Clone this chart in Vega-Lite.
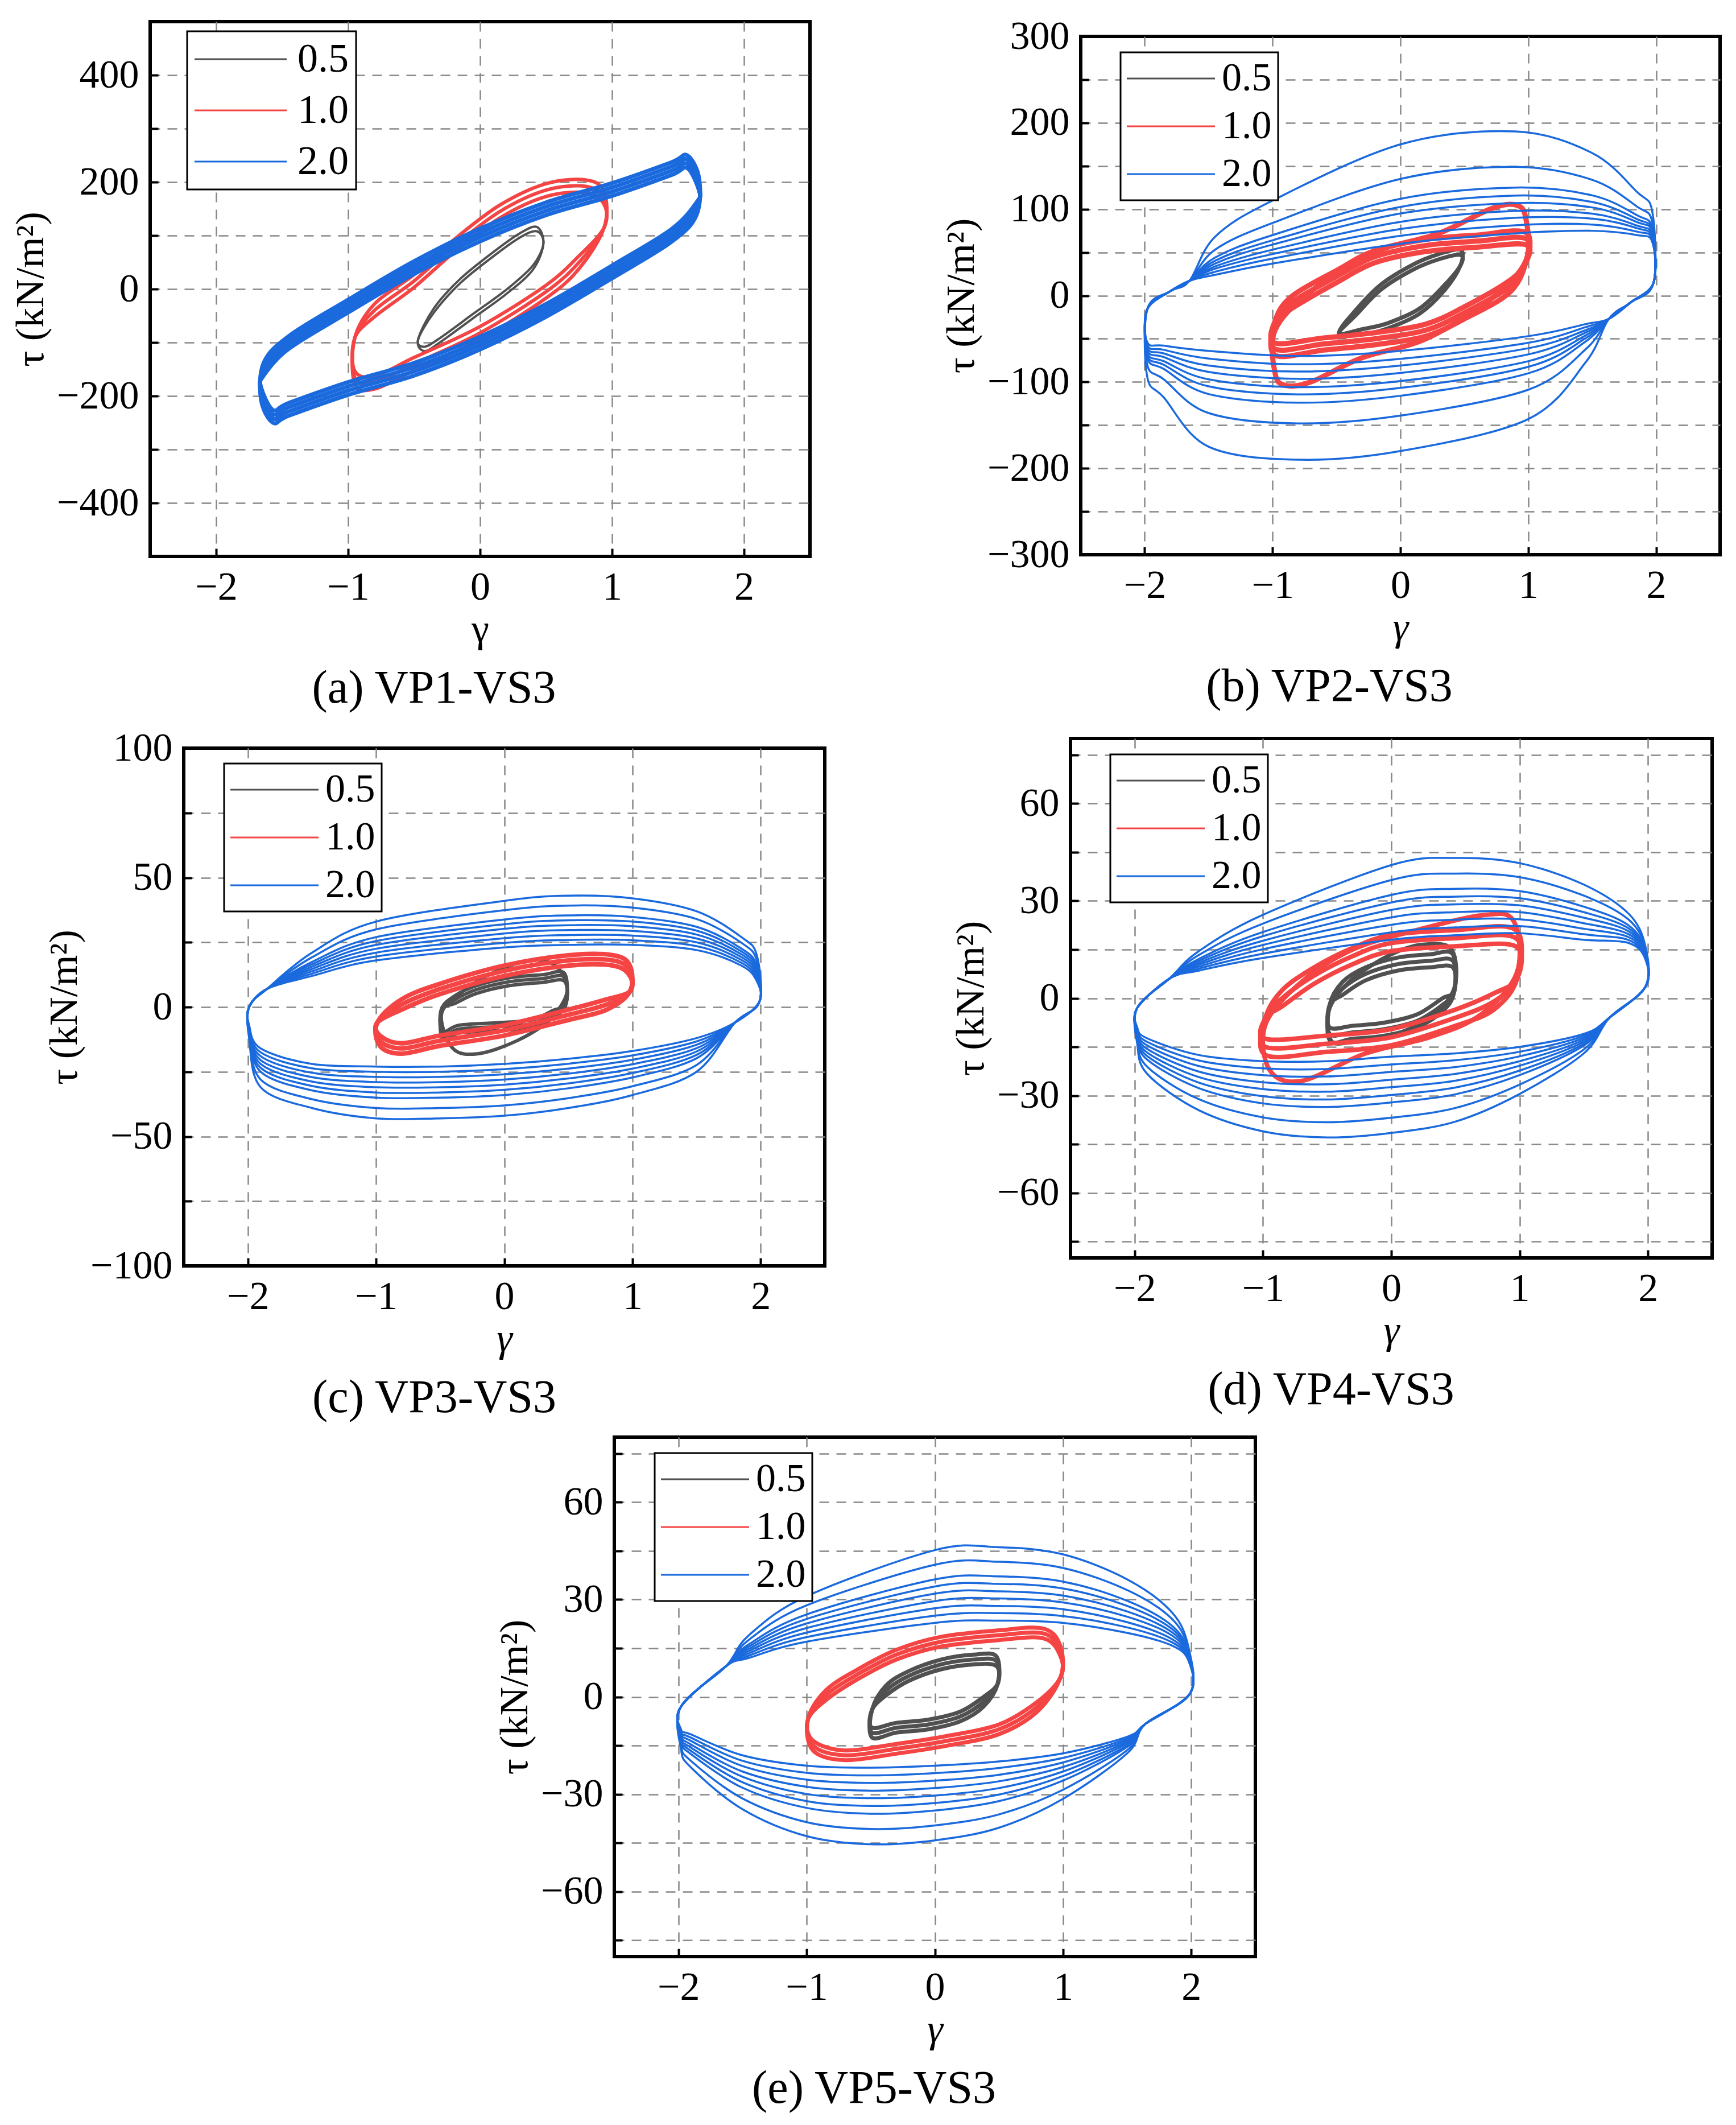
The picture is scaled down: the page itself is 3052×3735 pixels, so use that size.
{
"$schema":"https://vega.github.io/schema/vega-lite/v6.json",
"background":"white",
"padding":{"left":5,"top":26,"right":5,"bottom":2},
"config":{
"view":{"stroke":"#000000","strokeWidth":6},
"axis":{"domain":false,"grid":true,"gridColor":"#888888","gridDash":[17,13],"gridWidth":2.5,"tickColor":"#000000","tickWidth":4,"tickSize":-14,"labelFont":"Liberation Serif","labelFontSize":70,"labelColor":"#000000","labelPadding":34,"labelOverlap":false,"labelFlush":false,"titleFont":"Liberation Serif","titleFontSize":70,"titleFontWeight":"normal","titleColor":"#000000"},
"axisX":{"titlePadding":5},
"axisY":{"titlePadding":9},
"legend":{"symbolType":"M-4,0H4","symbolStrokeWidth":3,"symbolSize":1502,"symbolOffset":42.5,"labelFont":"Liberation Serif","labelFontSize":70,"labelColor":"#000000","labelOffset":54.5,"rowPadding":14,"padding":11,"strokeColor":"#000000","strokeWidth":3,"fillColor":"#ffffff","labelLimit":0},
"title":{"font":"Liberation Serif","fontSize":82,"fontWeight":"normal","color":"#000000","orient":"bottom","anchor":"middle","offset":29},
"line":{"interpolate":"cardinal-closed","strokeWidth":3,"clip":true}
},
"datasets":{
"A0":[{"c":1,"x":-0.47,"y":-95},{"c":1,"x":-0.35,"y":-44},{"c":1,"x":-0.15,"y":11},{"c":1,"x":0.1,"y":61},{"c":1,"x":0.3,"y":96},{"c":1,"x":0.43,"y":108},{"c":1,"x":0.48,"y":85},{"c":1,"x":0.4,"y":44},{"c":1,"x":0.2,"y":-1},{"c":1,"x":-0.05,"y":-46},{"c":1,"x":-0.3,"y":-91},{"c":1,"x":-0.42,"y":-108},
{"c":2,"x":-0.47,"y":-95},{"c":2,"x":-0.35,"y":-36},{"c":2,"x":-0.15,"y":19},{"c":2,"x":0.1,"y":69},{"c":2,"x":0.3,"y":104},{"c":2,"x":0.43,"y":116},{"c":2,"x":0.48,"y":85},{"c":2,"x":0.4,"y":36},{"c":2,"x":0.2,"y":-9},{"c":2,"x":-0.05,"y":-54},{"c":2,"x":-0.3,"y":-99},{"c":2,"x":-0.42,"y":-116}],
"A1":[{"c":1,"x":-0.95,"y":-92},{"c":1,"x":-0.8,"y":-52},{"c":1,"x":-0.5,"y":3},{"c":1,"x":-0.2,"y":68},{"c":1,"x":0.15,"y":133},{"c":1,"x":0.5,"y":173},{"c":1,"x":0.8,"y":180},{"c":1,"x":0.94,"y":158},{"c":1,"x":0.94,"y":115},{"c":1,"x":0.75,"y":62},{"c":1,"x":0.5,"y":7},{"c":1,"x":0,"y":-70},{"c":1,"x":-0.5,"y":-128},{"c":1,"x":-0.8,"y":-163},{"c":1,"x":-0.95,"y":-153},
{"c":2,"x":-0.95,"y":-92},{"c":2,"x":-0.8,"y":-40},{"c":2,"x":-0.5,"y":15},{"c":2,"x":-0.2,"y":80},{"c":2,"x":0.15,"y":145},{"c":2,"x":0.5,"y":185},{"c":2,"x":0.8,"y":192},{"c":2,"x":0.94,"y":170},{"c":2,"x":0.94,"y":115},{"c":2,"x":0.75,"y":50},{"c":2,"x":0.5,"y":-5},{"c":2,"x":0,"y":-82},{"c":2,"x":-0.5,"y":-140},{"c":2,"x":-0.8,"y":-175},{"c":2,"x":-0.95,"y":-165},
{"c":3,"x":-0.95,"y":-92},{"c":3,"x":-0.8,"y":-28},{"c":3,"x":-0.5,"y":27},{"c":3,"x":-0.2,"y":92},{"c":3,"x":0.15,"y":157},{"c":3,"x":0.5,"y":197},{"c":3,"x":0.8,"y":204},{"c":3,"x":0.94,"y":182},{"c":3,"x":0.94,"y":115},{"c":3,"x":0.75,"y":38},{"c":3,"x":0.5,"y":-17},{"c":3,"x":0,"y":-94},{"c":3,"x":-0.5,"y":-152},{"c":3,"x":-0.8,"y":-187},{"c":3,"x":-0.95,"y":-177}],
"A2":[{"c":1,"x":-1.64,"y":-162},{"c":1,"x":-1.45,"y":-112},{"c":1,"x":-1.0,"y":-44},{"c":1,"x":-0.5,"y":28},{"c":1,"x":0,"y":89},{"c":1,"x":0.5,"y":138},{"c":1,"x":1.0,"y":174},{"c":1,"x":1.45,"y":213},{"c":1,"x":1.57,"y":226},{"c":1,"x":1.66,"y":183},{"c":1,"x":1.64,"y":162},{"c":1,"x":1.45,"y":112},{"c":1,"x":1.0,"y":44},{"c":1,"x":0.5,"y":-28},{"c":1,"x":0,"y":-89},{"c":1,"x":-0.5,"y":-138},{"c":1,"x":-1.0,"y":-174},{"c":1,"x":-1.45,"y":-213},{"c":1,"x":-1.57,"y":-226},{"c":1,"x":-1.66,"y":-183},
{"c":2,"x":-1.64,"y":-154},{"c":2,"x":-1.45,"y":-104},{"c":2,"x":-1.0,"y":-36},{"c":2,"x":-0.5,"y":36},{"c":2,"x":0,"y":97},{"c":2,"x":0.5,"y":146},{"c":2,"x":1.0,"y":182},{"c":2,"x":1.45,"y":221},{"c":2,"x":1.57,"y":234},{"c":2,"x":1.66,"y":191},{"c":2,"x":1.64,"y":154},{"c":2,"x":1.45,"y":104},{"c":2,"x":1.0,"y":36},{"c":2,"x":0.5,"y":-36},{"c":2,"x":0,"y":-97},{"c":2,"x":-0.5,"y":-146},{"c":2,"x":-1.0,"y":-182},{"c":2,"x":-1.45,"y":-221},{"c":2,"x":-1.57,"y":-234},{"c":2,"x":-1.66,"y":-191},
{"c":3,"x":-1.64,"y":-146},{"c":3,"x":-1.45,"y":-96},{"c":3,"x":-1.0,"y":-28},{"c":3,"x":-0.5,"y":44},{"c":3,"x":0,"y":105},{"c":3,"x":0.5,"y":154},{"c":3,"x":1.0,"y":190},{"c":3,"x":1.45,"y":229},{"c":3,"x":1.57,"y":242},{"c":3,"x":1.66,"y":199},{"c":3,"x":1.64,"y":146},{"c":3,"x":1.45,"y":96},{"c":3,"x":1.0,"y":28},{"c":3,"x":0.5,"y":-44},{"c":3,"x":0,"y":-105},{"c":3,"x":-0.5,"y":-154},{"c":3,"x":-1.0,"y":-190},{"c":3,"x":-1.45,"y":-229},{"c":3,"x":-1.57,"y":-242},{"c":3,"x":-1.66,"y":-199},
{"c":4,"x":-1.64,"y":-138},{"c":4,"x":-1.45,"y":-88},{"c":4,"x":-1.0,"y":-20},{"c":4,"x":-0.5,"y":52},{"c":4,"x":0,"y":113},{"c":4,"x":0.5,"y":162},{"c":4,"x":1.0,"y":198},{"c":4,"x":1.45,"y":237},{"c":4,"x":1.57,"y":250},{"c":4,"x":1.66,"y":207},{"c":4,"x":1.64,"y":138},{"c":4,"x":1.45,"y":88},{"c":4,"x":1.0,"y":20},{"c":4,"x":0.5,"y":-52},{"c":4,"x":0,"y":-113},{"c":4,"x":-0.5,"y":-162},{"c":4,"x":-1.0,"y":-198},{"c":4,"x":-1.45,"y":-237},{"c":4,"x":-1.57,"y":-250},{"c":4,"x":-1.66,"y":-207}],
"B0":[{"c":1,"x":-0.48,"y":-44},{"c":1,"x":-0.35,"y":-23},{"c":1,"x":-0.15,"y":7},{"c":1,"x":0.1,"y":30},{"c":1,"x":0.3,"y":42},{"c":1,"x":0.47,"y":47},{"c":1,"x":0.47,"y":35},{"c":1,"x":0.35,"y":13},{"c":1,"x":0.15,"y":-15},{"c":1,"x":-0.1,"y":-32},{"c":1,"x":-0.3,"y":-39},
{"c":2,"x":-0.48,"y":-44},{"c":2,"x":-0.35,"y":-17},{"c":2,"x":-0.15,"y":13},{"c":2,"x":0.1,"y":36},{"c":2,"x":0.3,"y":48},{"c":2,"x":0.47,"y":53},{"c":2,"x":0.47,"y":35},{"c":2,"x":0.35,"y":7},{"c":2,"x":0.15,"y":-21},{"c":2,"x":-0.1,"y":-38},{"c":2,"x":-0.3,"y":-45}],
"B1":[{"c":1,"x":-0.98,"y":-30},{"c":1,"x":-0.85,"y":-15},{"c":1,"x":-0.5,"y":15},{"c":1,"x":-0.2,"y":38},{"c":1,"x":0.2,"y":51},{"c":1,"x":0.6,"y":56},{"c":1,"x":0.98,"y":59},{"c":1,"x":0.98,"y":38},{"c":1,"x":0.85,"y":17},{"c":1,"x":0.5,"y":-13},{"c":1,"x":0.2,"y":-33},{"c":1,"x":-0.2,"y":-43},{"c":1,"x":-0.6,"y":-49},{"c":1,"x":-0.98,"y":-55},
{"c":2,"x":-0.98,"y":-30},{"c":2,"x":-0.85,"y":-8},{"c":2,"x":-0.5,"y":22},{"c":2,"x":-0.2,"y":45},{"c":2,"x":0.2,"y":58},{"c":2,"x":0.6,"y":63},{"c":2,"x":0.98,"y":66},{"c":2,"x":0.98,"y":38},{"c":2,"x":0.85,"y":10},{"c":2,"x":0.5,"y":-20},{"c":2,"x":0.2,"y":-40},{"c":2,"x":-0.2,"y":-50},{"c":2,"x":-0.6,"y":-56},{"c":2,"x":-0.98,"y":-62},
{"c":3,"x":-0.98,"y":-30},{"c":3,"x":-0.85,"y":-1},{"c":3,"x":-0.5,"y":29},{"c":3,"x":-0.2,"y":52},{"c":3,"x":0.2,"y":65},{"c":3,"x":0.6,"y":70},{"c":3,"x":0.98,"y":73},{"c":3,"x":0.98,"y":38},{"c":3,"x":0.85,"y":3},{"c":3,"x":0.5,"y":-27},{"c":3,"x":0.2,"y":-47},{"c":3,"x":-0.2,"y":-57},{"c":3,"x":-0.6,"y":-63},{"c":3,"x":-0.98,"y":-69},
{"c":4,"x":-0.98,"y":-40},{"c":4,"x":-0.7,"y":5},{"c":4,"x":-0.2,"y":50},{"c":4,"x":0.3,"y":72},{"c":4,"x":0.7,"y":100},{"c":4,"x":0.9,"y":105},{"c":4,"x":0.98,"y":90},{"c":4,"x":0.98,"y":40},{"c":4,"x":0.7,"y":-5},{"c":4,"x":0.2,"y":-50},{"c":4,"x":-0.3,"y":-72},{"c":4,"x":-0.7,"y":-100},{"c":4,"x":-0.9,"y":-104},{"c":4,"x":-0.98,"y":-90}],
"B2":[{"c":1,"x":-1.98,"y":-16},{"c":1,"x":-1.8,"y":5},{"c":1,"x":-1.65,"y":17},{"c":1,"x":-1.45,"y":24},{"c":1,"x":-1.0,"y":37},{"c":1,"x":0,"y":60},{"c":1,"x":0.9,"y":72},{"c":1,"x":1.5,"y":75},{"c":1,"x":1.85,"y":70},{"c":1,"x":1.97,"y":62},{"c":1,"x":1.98,"y":15},{"c":1,"x":1.8,"y":-8},{"c":1,"x":1.63,"y":-27},{"c":1,"x":1.45,"y":-33},{"c":1,"x":1.0,"y":-47},{"c":1,"x":0,"y":-64},{"c":1,"x":-0.8,"y":-70},{"c":1,"x":-1.5,"y":-64},{"c":1,"x":-1.85,"y":-58},{"c":1,"x":-1.98,"y":-54},
{"c":2,"x":-1.98,"y":-16},{"c":2,"x":-1.8,"y":5},{"c":2,"x":-1.65,"y":17},{"c":2,"x":-1.45,"y":31},{"c":2,"x":-1.0,"y":48},{"c":2,"x":0,"y":77},{"c":2,"x":0.9,"y":90},{"c":2,"x":1.5,"y":89},{"c":2,"x":1.85,"y":78},{"c":2,"x":1.97,"y":67},{"c":2,"x":1.98,"y":15},{"c":2,"x":1.8,"y":-8},{"c":2,"x":1.63,"y":-27},{"c":2,"x":1.45,"y":-40},{"c":2,"x":1.0,"y":-61},{"c":2,"x":0,"y":-81},{"c":2,"x":-0.8,"y":-88},{"c":2,"x":-1.5,"y":-81},{"c":2,"x":-1.85,"y":-67},{"c":2,"x":-1.98,"y":-60},
{"c":3,"x":-1.98,"y":-16},{"c":3,"x":-1.8,"y":5},{"c":3,"x":-1.65,"y":17},{"c":3,"x":-1.45,"y":37},{"c":3,"x":-1.0,"y":59},{"c":3,"x":0,"y":95},{"c":3,"x":0.9,"y":107},{"c":3,"x":1.5,"y":102},{"c":3,"x":1.85,"y":85},{"c":3,"x":1.97,"y":73},{"c":3,"x":1.98,"y":15},{"c":3,"x":1.8,"y":-8},{"c":3,"x":1.63,"y":-27},{"c":3,"x":1.45,"y":-46},{"c":3,"x":1.0,"y":-76},{"c":3,"x":0,"y":-99},{"c":3,"x":-0.8,"y":-106},{"c":3,"x":-1.5,"y":-97},{"c":3,"x":-1.85,"y":-76},{"c":3,"x":-1.98,"y":-66},
{"c":4,"x":-1.98,"y":-16},{"c":4,"x":-1.8,"y":5},{"c":4,"x":-1.65,"y":17},{"c":4,"x":-1.45,"y":44},{"c":4,"x":-1.0,"y":70},{"c":4,"x":0,"y":112},{"c":4,"x":0.9,"y":125},{"c":4,"x":1.5,"y":116},{"c":4,"x":1.85,"y":93},{"c":4,"x":1.97,"y":78},{"c":4,"x":1.98,"y":15},{"c":4,"x":1.8,"y":-8},{"c":4,"x":1.63,"y":-27},{"c":4,"x":1.45,"y":-53},{"c":4,"x":1.0,"y":-90},{"c":4,"x":0,"y":-116},{"c":4,"x":-0.8,"y":-124},{"c":4,"x":-1.5,"y":-114},{"c":4,"x":-1.85,"y":-85},{"c":4,"x":-1.98,"y":-72},
{"c":5,"x":-1.98,"y":-16},{"c":5,"x":-1.8,"y":5},{"c":5,"x":-1.65,"y":17},{"c":5,"x":-1.45,"y":53},{"c":5,"x":-1.0,"y":84},{"c":5,"x":0,"y":135},{"c":5,"x":0.9,"y":149},{"c":5,"x":1.5,"y":134},{"c":5,"x":1.85,"y":103},{"c":5,"x":1.97,"y":85},{"c":5,"x":1.98,"y":15},{"c":5,"x":1.8,"y":-8},{"c":5,"x":1.63,"y":-27},{"c":5,"x":1.45,"y":-62},{"c":5,"x":1.0,"y":-109},{"c":5,"x":0,"y":-139},{"c":5,"x":-0.8,"y":-148},{"c":5,"x":-1.5,"y":-136},{"c":5,"x":-1.85,"y":-97},{"c":5,"x":-1.98,"y":-80},
{"c":6,"x":-1.98,"y":-16},{"c":6,"x":-1.8,"y":5},{"c":6,"x":-1.65,"y":17},{"c":6,"x":-1.45,"y":68},{"c":6,"x":-1.0,"y":110},{"c":6,"x":0,"y":175},{"c":6,"x":0.9,"y":190},{"c":6,"x":1.5,"y":165},{"c":6,"x":1.85,"y":120},{"c":6,"x":1.97,"y":97},{"c":6,"x":1.98,"y":15},{"c":6,"x":1.8,"y":-8},{"c":6,"x":1.63,"y":-27},{"c":6,"x":1.45,"y":-77},{"c":6,"x":1.0,"y":-143},{"c":6,"x":0,"y":-180},{"c":6,"x":-0.8,"y":-190},{"c":6,"x":-1.5,"y":-175},{"c":6,"x":-1.85,"y":-118},{"c":6,"x":-1.98,"y":-94},
{"c":7,"x":-1.98,"y":-16},{"c":7,"x":-1.8,"y":5},{"c":7,"x":-1.65,"y":17},{"c":7,"x":-1.45,"y":27.5},{"c":7,"x":-1.0,"y":42.8},{"c":7,"x":0,"y":69.2},{"c":7,"x":0.9,"y":81.4},{"c":7,"x":1.5,"y":82.2},{"c":7,"x":1.85,"y":74},{"c":7,"x":1.97,"y":64.8},{"c":7,"x":1.98,"y":15},{"c":7,"x":1.8,"y":-8},{"c":7,"x":1.63,"y":-27},{"c":7,"x":1.45,"y":-36.5},{"c":7,"x":1.0,"y":-54.7},{"c":7,"x":0,"y":-73.3},{"c":7,"x":-0.8,"y":-79.6},{"c":7,"x":-1.5,"y":-72.9},{"c":7,"x":-1.85,"y":-62.8},{"c":7,"x":-1.98,"y":-57.2},
{"c":8,"x":-1.98,"y":-16},{"c":8,"x":-1.8,"y":5},{"c":8,"x":-1.65,"y":17},{"c":8,"x":-1.45,"y":33.7},{"c":8,"x":-1.0,"y":53.1},{"c":8,"x":0,"y":85.3},{"c":8,"x":0.9,"y":98},{"c":8,"x":1.5,"y":94.8},{"c":8,"x":1.85,"y":81},{"c":8,"x":1.97,"y":69.7},{"c":8,"x":1.98,"y":15},{"c":8,"x":1.8,"y":-8},{"c":8,"x":1.63,"y":-27},{"c":8,"x":1.45,"y":-42.7},{"c":8,"x":1.0,"y":-68.1},{"c":8,"x":0,"y":-89.5},{"c":8,"x":-0.8,"y":-96.4},{"c":8,"x":-1.5,"y":-88.4},{"c":8,"x":-1.85,"y":-71.2},{"c":8,"x":-1.98,"y":-62.8},
{"c":9,"x":-1.98,"y":-16},{"c":9,"x":-1.8,"y":5},{"c":9,"x":-1.65,"y":17},{"c":9,"x":-1.45,"y":40.3},{"c":9,"x":-1.0,"y":64},{"c":9,"x":0,"y":102.6},{"c":9,"x":0.9,"y":115.7},{"c":9,"x":1.5,"y":108.3},{"c":9,"x":1.85,"y":88.5},{"c":9,"x":1.97,"y":75},{"c":9,"x":1.98,"y":15},{"c":9,"x":1.8,"y":-8},{"c":9,"x":1.63,"y":-27},{"c":9,"x":1.45,"y":-49.3},{"c":9,"x":1.0,"y":-82.5},{"c":9,"x":0,"y":-106.9},{"c":9,"x":-0.8,"y":-114.4},{"c":9,"x":-1.5,"y":-105.1},{"c":9,"x":-1.85,"y":-80.2},{"c":9,"x":-1.98,"y":-68.8}],
"C0":[{"c":1,"x":-0.49,"y":-1},{"c":1,"x":-0.38,"y":1.5},{"c":1,"x":-0.22,"y":5.2},{"c":1,"x":0.03,"y":8.2},{"c":1,"x":0.3,"y":9.5},{"c":1,"x":0.47,"y":10},{"c":1,"x":0.48,"y":1},{"c":1,"x":0.38,"y":-1.3},{"c":1,"x":0.22,"y":-4.9},{"c":1,"x":-0.02,"y":-6},{"c":1,"x":-0.35,"y":-7},{"c":1,"x":-0.48,"y":-9.5},
{"c":2,"x":-0.49,"y":-1},{"c":2,"x":-0.38,"y":3},{"c":2,"x":-0.22,"y":6.7},{"c":2,"x":0.03,"y":9.7},{"c":2,"x":0.3,"y":11},{"c":2,"x":0.47,"y":11.5},{"c":2,"x":0.48,"y":1},{"c":2,"x":0.38,"y":-2.8},{"c":2,"x":0.22,"y":-6.4},{"c":2,"x":-0.02,"y":-7.5},{"c":2,"x":-0.35,"y":-8.5},{"c":2,"x":-0.48,"y":-11},
{"c":3,"x":-0.49,"y":-1},{"c":3,"x":-0.38,"y":4.5},{"c":3,"x":-0.22,"y":8.2},{"c":3,"x":0.03,"y":11.2},{"c":3,"x":0.3,"y":12.5},{"c":3,"x":0.47,"y":13},{"c":3,"x":0.48,"y":1},{"c":3,"x":0.38,"y":-4.3},{"c":3,"x":0.22,"y":-7.9},{"c":3,"x":-0.02,"y":-9},{"c":3,"x":-0.35,"y":-10},{"c":3,"x":-0.48,"y":-12.5},
{"c":4,"x":-0.49,"y":-3},{"c":4,"x":-0.35,"y":5},{"c":4,"x":-0.1,"y":13},{"c":4,"x":0.2,"y":18},{"c":4,"x":0.4,"y":16},{"c":4,"x":0.49,"y":6},{"c":4,"x":0.35,"y":-5},{"c":4,"x":0.1,"y":-13},{"c":4,"x":-0.2,"y":-18},{"c":4,"x":-0.4,"y":-16}],
"C1":[{"c":1,"x":-0.99,"y":-6},{"c":1,"x":-0.8,"y":-1},{"c":1,"x":-0.5,"y":5},{"c":1,"x":0,"y":12},{"c":1,"x":0.5,"y":16},{"c":1,"x":0.85,"y":16},{"c":1,"x":0.98,"y":12},{"c":1,"x":0.98,"y":6},{"c":1,"x":0.8,"y":3},{"c":1,"x":0.5,"y":-1},{"c":1,"x":0,"y":-7},{"c":1,"x":-0.5,"y":-11},{"c":1,"x":-0.8,"y":-14},{"c":1,"x":-0.97,"y":-11},
{"c":2,"x":-0.99,"y":-6},{"c":2,"x":-0.8,"y":1},{"c":2,"x":-0.5,"y":7},{"c":2,"x":0,"y":14},{"c":2,"x":0.5,"y":18},{"c":2,"x":0.85,"y":18},{"c":2,"x":0.98,"y":14},{"c":2,"x":0.98,"y":6},{"c":2,"x":0.8,"y":1},{"c":2,"x":0.5,"y":-3},{"c":2,"x":0,"y":-9},{"c":2,"x":-0.5,"y":-13},{"c":2,"x":-0.8,"y":-16},{"c":2,"x":-0.97,"y":-13},
{"c":3,"x":-0.99,"y":-6},{"c":3,"x":-0.8,"y":3},{"c":3,"x":-0.5,"y":9},{"c":3,"x":0,"y":16},{"c":3,"x":0.5,"y":20},{"c":3,"x":0.85,"y":20},{"c":3,"x":0.98,"y":16},{"c":3,"x":0.98,"y":6},{"c":3,"x":0.8,"y":-1},{"c":3,"x":0.5,"y":-5},{"c":3,"x":0,"y":-11},{"c":3,"x":-0.5,"y":-15},{"c":3,"x":-0.8,"y":-18},{"c":3,"x":-0.97,"y":-15}],
"C2":[{"c":1,"x":-1.99,"y":0},{"c":1,"x":-1.85,"y":7},{"c":1,"x":-1.5,"y":12},{"c":1,"x":-1.0,"y":18},{"c":1,"x":0,"y":23},{"c":1,"x":0.5,"y":24},{"c":1,"x":1.0,"y":24},{"c":1,"x":1.5,"y":22},{"c":1,"x":1.85,"y":16},{"c":1,"x":1.97,"y":10},{"c":1,"x":1.99,"y":2},{"c":1,"x":1.8,"y":-6},{"c":1,"x":1.5,"y":-12},{"c":1,"x":1.0,"y":-17},{"c":1,"x":0.5,"y":-20},{"c":1,"x":0,"y":-22},{"c":1,"x":-0.5,"y":-23},{"c":1,"x":-1.0,"y":-23},{"c":1,"x":-1.5,"y":-22},{"c":1,"x":-1.9,"y":-16},{"c":1,"x":-1.99,"y":-7},
{"c":2,"x":-1.99,"y":0},{"c":2,"x":-1.85,"y":7},{"c":2,"x":-1.5,"y":13.8},{"c":2,"x":-1.0,"y":21},{"c":2,"x":0,"y":26.6},{"c":2,"x":0.5,"y":27.8},{"c":2,"x":1.0,"y":27.6},{"c":2,"x":1.5,"y":25},{"c":2,"x":1.85,"y":18.2},{"c":2,"x":1.97,"y":12},{"c":2,"x":1.99,"y":2},{"c":2,"x":1.8,"y":-6},{"c":2,"x":1.5,"y":-14.6},{"c":2,"x":1.0,"y":-20.4},{"c":2,"x":0.5,"y":-23.8},{"c":2,"x":0,"y":-26},{"c":2,"x":-0.5,"y":-27},{"c":2,"x":-1.0,"y":-27},{"c":2,"x":-1.5,"y":-25.4},{"c":2,"x":-1.9,"y":-19},{"c":2,"x":-1.99,"y":-8},
{"c":3,"x":-1.99,"y":0},{"c":3,"x":-1.85,"y":7},{"c":3,"x":-1.5,"y":15.6},{"c":3,"x":-1.0,"y":24},{"c":3,"x":0,"y":30.2},{"c":3,"x":0.5,"y":31.6},{"c":3,"x":1.0,"y":31.2},{"c":3,"x":1.5,"y":28},{"c":3,"x":1.85,"y":20.4},{"c":3,"x":1.97,"y":14},{"c":3,"x":1.99,"y":2},{"c":3,"x":1.8,"y":-6},{"c":3,"x":1.5,"y":-17.2},{"c":3,"x":1.0,"y":-23.8},{"c":3,"x":0.5,"y":-27.6},{"c":3,"x":0,"y":-30},{"c":3,"x":-0.5,"y":-31},{"c":3,"x":-1.0,"y":-31},{"c":3,"x":-1.5,"y":-28.8},{"c":3,"x":-1.9,"y":-22},{"c":3,"x":-1.99,"y":-9},
{"c":4,"x":-1.99,"y":0},{"c":4,"x":-1.85,"y":7},{"c":4,"x":-1.5,"y":17.4},{"c":4,"x":-1.0,"y":27},{"c":4,"x":0,"y":33.8},{"c":4,"x":0.5,"y":35.4},{"c":4,"x":1.0,"y":34.8},{"c":4,"x":1.5,"y":31},{"c":4,"x":1.85,"y":22.6},{"c":4,"x":1.97,"y":16},{"c":4,"x":1.99,"y":2},{"c":4,"x":1.8,"y":-6},{"c":4,"x":1.5,"y":-19.8},{"c":4,"x":1.0,"y":-27.2},{"c":4,"x":0.5,"y":-31.4},{"c":4,"x":0,"y":-34},{"c":4,"x":-0.5,"y":-35},{"c":4,"x":-1.0,"y":-35},{"c":4,"x":-1.5,"y":-32.2},{"c":4,"x":-1.9,"y":-25},{"c":4,"x":-1.99,"y":-10},
{"c":5,"x":-1.99,"y":0},{"c":5,"x":-1.85,"y":7},{"c":5,"x":-1.5,"y":19.2},{"c":5,"x":-1.0,"y":30},{"c":5,"x":0,"y":37.4},{"c":5,"x":0.5,"y":39.2},{"c":5,"x":1.0,"y":38.4},{"c":5,"x":1.5,"y":34},{"c":5,"x":1.85,"y":24.8},{"c":5,"x":1.97,"y":18},{"c":5,"x":1.99,"y":2},{"c":5,"x":1.8,"y":-6},{"c":5,"x":1.5,"y":-22.4},{"c":5,"x":1.0,"y":-30.6},{"c":5,"x":0.5,"y":-35.2},{"c":5,"x":0,"y":-38},{"c":5,"x":-0.5,"y":-39},{"c":5,"x":-1.0,"y":-39},{"c":5,"x":-1.5,"y":-35.6},{"c":5,"x":-1.9,"y":-28},{"c":5,"x":-1.99,"y":-11},
{"c":6,"x":-1.99,"y":0},{"c":6,"x":-1.85,"y":7},{"c":6,"x":-1.5,"y":21},{"c":6,"x":-1.0,"y":33},{"c":6,"x":0,"y":41},{"c":6,"x":0.5,"y":43},{"c":6,"x":1.0,"y":42},{"c":6,"x":1.5,"y":37},{"c":6,"x":1.85,"y":27},{"c":6,"x":1.97,"y":20},{"c":6,"x":1.99,"y":2},{"c":6,"x":1.8,"y":-6},{"c":6,"x":1.5,"y":-25},{"c":6,"x":1.0,"y":-34},{"c":6,"x":0.5,"y":-39},{"c":6,"x":0,"y":-42},{"c":6,"x":-0.5,"y":-43},{"c":6,"x":-1.0,"y":-43},{"c":6,"x":-1.5,"y":-39},{"c":6,"x":-1.9,"y":-31},{"c":6,"x":-1.99,"y":-12},
{"c":7,"x":-1.99,"y":0},{"c":7,"x":-1.85,"y":7},{"c":7,"x":-1.5,"y":12.9},{"c":7,"x":-1.0,"y":19.5},{"c":7,"x":0,"y":24.8},{"c":7,"x":0.5,"y":25.9},{"c":7,"x":1.0,"y":25.8},{"c":7,"x":1.5,"y":23.5},{"c":7,"x":1.85,"y":17.1},{"c":7,"x":1.97,"y":11},{"c":7,"x":1.99,"y":2},{"c":7,"x":1.8,"y":-6},{"c":7,"x":1.5,"y":-13.3},{"c":7,"x":1.0,"y":-18.7},{"c":7,"x":0.5,"y":-21.9},{"c":7,"x":0,"y":-24},{"c":7,"x":-0.5,"y":-25},{"c":7,"x":-1.0,"y":-25},{"c":7,"x":-1.5,"y":-23.7},{"c":7,"x":-1.9,"y":-17.5},{"c":7,"x":-1.99,"y":-7.5},
{"c":8,"x":-1.99,"y":0},{"c":8,"x":-1.85,"y":7},{"c":8,"x":-1.5,"y":14.7},{"c":8,"x":-1.0,"y":22.5},{"c":8,"x":0,"y":28.4},{"c":8,"x":0.5,"y":29.7},{"c":8,"x":1.0,"y":29.4},{"c":8,"x":1.5,"y":26.5},{"c":8,"x":1.85,"y":19.3},{"c":8,"x":1.97,"y":13},{"c":8,"x":1.99,"y":2},{"c":8,"x":1.8,"y":-6},{"c":8,"x":1.5,"y":-15.9},{"c":8,"x":1.0,"y":-22.1},{"c":8,"x":0.5,"y":-25.7},{"c":8,"x":0,"y":-28},{"c":8,"x":-0.5,"y":-29},{"c":8,"x":-1.0,"y":-29},{"c":8,"x":-1.5,"y":-27.1},{"c":8,"x":-1.9,"y":-20.5},{"c":8,"x":-1.99,"y":-8.5},
{"c":9,"x":-1.99,"y":0},{"c":9,"x":-1.85,"y":7},{"c":9,"x":-1.5,"y":16.5},{"c":9,"x":-1.0,"y":25.5},{"c":9,"x":0,"y":32},{"c":9,"x":0.5,"y":33.5},{"c":9,"x":1.0,"y":33},{"c":9,"x":1.5,"y":29.5},{"c":9,"x":1.85,"y":21.5},{"c":9,"x":1.97,"y":15},{"c":9,"x":1.99,"y":2},{"c":9,"x":1.8,"y":-6},{"c":9,"x":1.5,"y":-18.5},{"c":9,"x":1.0,"y":-25.5},{"c":9,"x":0.5,"y":-29.5},{"c":9,"x":0,"y":-32},{"c":9,"x":-0.5,"y":-33},{"c":9,"x":-1.0,"y":-33},{"c":9,"x":-1.5,"y":-30.5},{"c":9,"x":-1.9,"y":-23.5},{"c":9,"x":-1.99,"y":-9.5}],
"D0":[{"c":1,"x":-0.48,"y":-2},{"c":1,"x":-0.38,"y":1},{"c":1,"x":-0.2,"y":5.5},{"c":1,"x":0.05,"y":8.5},{"c":1,"x":0.3,"y":9.5},{"c":1,"x":0.48,"y":9.5},{"c":1,"x":0.49,"y":2},{"c":1,"x":0.4,"y":0},{"c":1,"x":0.2,"y":-5},{"c":1,"x":-0.05,"y":-7.5},{"c":1,"x":-0.3,"y":-8.5},{"c":1,"x":-0.48,"y":-9},
{"c":2,"x":-0.48,"y":-2},{"c":2,"x":-0.38,"y":3},{"c":2,"x":-0.2,"y":7.5},{"c":2,"x":0.05,"y":10.5},{"c":2,"x":0.3,"y":11.5},{"c":2,"x":0.48,"y":11.5},{"c":2,"x":0.49,"y":2},{"c":2,"x":0.4,"y":-2},{"c":2,"x":0.2,"y":-7},{"c":2,"x":-0.05,"y":-9.5},{"c":2,"x":-0.3,"y":-10.5},{"c":2,"x":-0.48,"y":-11},
{"c":3,"x":-0.48,"y":-2},{"c":3,"x":-0.38,"y":5},{"c":3,"x":-0.2,"y":9.5},{"c":3,"x":0.05,"y":12.5},{"c":3,"x":0.3,"y":13.5},{"c":3,"x":0.48,"y":13.5},{"c":3,"x":0.49,"y":2},{"c":3,"x":0.4,"y":-4},{"c":3,"x":0.2,"y":-9},{"c":3,"x":-0.05,"y":-11.5},{"c":3,"x":-0.3,"y":-12.5},{"c":3,"x":-0.48,"y":-13},
{"c":4,"x":-0.48,"y":-3},{"c":4,"x":-0.3,"y":6},{"c":4,"x":0,"y":13.5},{"c":4,"x":0.25,"y":16.5},{"c":4,"x":0.47,"y":15},{"c":4,"x":0.49,"y":3},{"c":4,"x":0.3,"y":-6},{"c":4,"x":0,"y":-11.5},{"c":4,"x":-0.3,"y":-13.5},{"c":4,"x":-0.47,"y":-13}],
"D1":[{"c":1,"x":-0.98,"y":-6},{"c":1,"x":-0.85,"y":-2.5},{"c":1,"x":-0.6,"y":4.5},{"c":1,"x":-0.3,"y":10.5},{"c":1,"x":0,"y":14.5},{"c":1,"x":0.5,"y":16},{"c":1,"x":0.97,"y":16},{"c":1,"x":0.98,"y":6},{"c":1,"x":0.8,"y":1.5},{"c":1,"x":0.5,"y":-3.5},{"c":1,"x":0,"y":-9.5},{"c":1,"x":-0.5,"y":-11.5},{"c":1,"x":-0.98,"y":-12.5},
{"c":2,"x":-0.98,"y":-6},{"c":2,"x":-0.85,"y":0},{"c":2,"x":-0.6,"y":7},{"c":2,"x":-0.3,"y":13},{"c":2,"x":0,"y":17},{"c":2,"x":0.5,"y":18.5},{"c":2,"x":0.97,"y":18.5},{"c":2,"x":0.98,"y":6},{"c":2,"x":0.8,"y":-1},{"c":2,"x":0.5,"y":-6},{"c":2,"x":0,"y":-12},{"c":2,"x":-0.5,"y":-14},{"c":2,"x":-0.98,"y":-15},
{"c":3,"x":-0.98,"y":-6},{"c":3,"x":-0.85,"y":2.5},{"c":3,"x":-0.6,"y":9.5},{"c":3,"x":-0.3,"y":15.5},{"c":3,"x":0,"y":19.5},{"c":3,"x":0.5,"y":21},{"c":3,"x":0.97,"y":21},{"c":3,"x":0.98,"y":6},{"c":3,"x":0.8,"y":-3.5},{"c":3,"x":0.5,"y":-8.5},{"c":3,"x":0,"y":-14.5},{"c":3,"x":-0.5,"y":-16.5},{"c":3,"x":-0.98,"y":-17.5},
{"c":4,"x":-0.98,"y":-8},{"c":4,"x":-0.7,"y":5},{"c":4,"x":-0.3,"y":15},{"c":4,"x":0.2,"y":21},{"c":4,"x":0.7,"y":25.5},{"c":4,"x":0.95,"y":24},{"c":4,"x":0.98,"y":8},{"c":4,"x":0.7,"y":-5},{"c":4,"x":0.3,"y":-12},{"c":4,"x":-0.2,"y":-17},{"c":4,"x":-0.7,"y":-25.5},{"c":4,"x":-0.95,"y":-22}],
"D2":[{"c":1,"x":-1.98,"y":-3},{"c":1,"x":-1.73,"y":6},{"c":1,"x":-1.5,"y":8.5},{"c":1,"x":-1.0,"y":12.4},{"c":1,"x":0,"y":18},{"c":1,"x":0.5,"y":19.4},{"c":1,"x":1.0,"y":20},{"c":1,"x":1.5,"y":18},{"c":1,"x":1.85,"y":17},{"c":1,"x":1.98,"y":12},{"c":1,"x":1.98,"y":3.5},{"c":1,"x":1.7,"y":-6},{"c":1,"x":1.5,"y":-11},{"c":1,"x":1.0,"y":-15},{"c":1,"x":0.5,"y":-17},{"c":1,"x":0,"y":-18},{"c":1,"x":-0.5,"y":-19.4},{"c":1,"x":-1.0,"y":-19.4},{"c":1,"x":-1.5,"y":-17.5},{"c":1,"x":-1.9,"y":-12.4},{"c":1,"x":-1.98,"y":-9},
{"c":2,"x":-1.98,"y":-3},{"c":2,"x":-1.73,"y":6},{"c":2,"x":-1.5,"y":9.7},{"c":2,"x":-1.0,"y":15.1},{"c":2,"x":0,"y":22.6},{"c":2,"x":0.5,"y":24.2},{"c":2,"x":1.0,"y":24.3},{"c":2,"x":1.5,"y":21.4},{"c":2,"x":1.85,"y":18.8},{"c":2,"x":1.98,"y":12.8},{"c":2,"x":1.98,"y":3.5},{"c":2,"x":1.7,"y":-6},{"c":2,"x":1.5,"y":-12.2},{"c":2,"x":1.0,"y":-17.9},{"c":2,"x":0.5,"y":-21.2},{"c":2,"x":0,"y":-22.7},{"c":2,"x":-0.5,"y":-24.1},{"c":2,"x":-1.0,"y":-23.7},{"c":2,"x":-1.5,"y":-20.9},{"c":2,"x":-1.9,"y":-14.6},{"c":2,"x":-1.98,"y":-10},
{"c":3,"x":-1.98,"y":-3},{"c":3,"x":-1.73,"y":6},{"c":3,"x":-1.5,"y":10.9},{"c":3,"x":-1.0,"y":17.7},{"c":3,"x":0,"y":27.2},{"c":3,"x":0.5,"y":28.9},{"c":3,"x":1.0,"y":28.6},{"c":3,"x":1.5,"y":24.8},{"c":3,"x":1.85,"y":20.6},{"c":3,"x":1.98,"y":13.6},{"c":3,"x":1.98,"y":3.5},{"c":3,"x":1.7,"y":-6},{"c":3,"x":1.5,"y":-13.4},{"c":3,"x":1.0,"y":-20.8},{"c":3,"x":0.5,"y":-25.4},{"c":3,"x":0,"y":-27.4},{"c":3,"x":-0.5,"y":-28.8},{"c":3,"x":-1.0,"y":-28},{"c":3,"x":-1.5,"y":-24.3},{"c":3,"x":-1.9,"y":-16.8},{"c":3,"x":-1.98,"y":-11},
{"c":4,"x":-1.98,"y":-3},{"c":4,"x":-1.73,"y":6},{"c":4,"x":-1.5,"y":12.1},{"c":4,"x":-1.0,"y":20.4},{"c":4,"x":0,"y":31.8},{"c":4,"x":0.5,"y":33.7},{"c":4,"x":1.0,"y":33},{"c":4,"x":1.5,"y":28.2},{"c":4,"x":1.85,"y":22.4},{"c":4,"x":1.98,"y":14.4},{"c":4,"x":1.98,"y":3.5},{"c":4,"x":1.7,"y":-6},{"c":4,"x":1.5,"y":-14.6},{"c":4,"x":1.0,"y":-23.7},{"c":4,"x":0.5,"y":-29.6},{"c":4,"x":0,"y":-32.1},{"c":4,"x":-0.5,"y":-33.5},{"c":4,"x":-1.0,"y":-32.4},{"c":4,"x":-1.5,"y":-27.7},{"c":4,"x":-1.9,"y":-19},{"c":4,"x":-1.98,"y":-12},
{"c":5,"x":-1.98,"y":-3},{"c":5,"x":-1.73,"y":6},{"c":5,"x":-1.5,"y":13.3},{"c":5,"x":-1.0,"y":23},{"c":5,"x":0,"y":36.4},{"c":5,"x":0.5,"y":38.4},{"c":5,"x":1.0,"y":37.3},{"c":5,"x":1.5,"y":31.6},{"c":5,"x":1.85,"y":24.2},{"c":5,"x":1.98,"y":15.2},{"c":5,"x":1.98,"y":3.5},{"c":5,"x":1.7,"y":-6},{"c":5,"x":1.5,"y":-15.8},{"c":5,"x":1.0,"y":-26.6},{"c":5,"x":0.5,"y":-33.8},{"c":5,"x":0,"y":-36.8},{"c":5,"x":-0.5,"y":-38.2},{"c":5,"x":-1.0,"y":-36.7},{"c":5,"x":-1.5,"y":-31.1},{"c":5,"x":-1.9,"y":-21.2},{"c":5,"x":-1.98,"y":-13},
{"c":6,"x":-1.98,"y":-3},{"c":6,"x":-1.73,"y":6},{"c":6,"x":-1.5,"y":14.5},{"c":6,"x":-1.0,"y":25.7},{"c":6,"x":0,"y":41},{"c":6,"x":0.5,"y":43.2},{"c":6,"x":1.0,"y":41.6},{"c":6,"x":1.5,"y":35},{"c":6,"x":1.85,"y":26},{"c":6,"x":1.98,"y":16},{"c":6,"x":1.98,"y":3.5},{"c":6,"x":1.7,"y":-6},{"c":6,"x":1.5,"y":-17},{"c":6,"x":1.0,"y":-29.5},{"c":6,"x":0.5,"y":-38},{"c":6,"x":0,"y":-41.5},{"c":6,"x":-0.5,"y":-42.9},{"c":6,"x":-1.0,"y":-41},{"c":6,"x":-1.5,"y":-34.5},{"c":6,"x":-1.9,"y":-23.4},{"c":6,"x":-1.98,"y":-14},
{"c":7,"x":-1.98,"y":-3},{"c":7,"x":-1.73,"y":6},{"c":7,"x":-1.5,"y":9.1},{"c":7,"x":-1.0,"y":13.7},{"c":7,"x":0,"y":20.3},{"c":7,"x":0.5,"y":21.8},{"c":7,"x":1.0,"y":22.2},{"c":7,"x":1.5,"y":19.7},{"c":7,"x":1.85,"y":17.9},{"c":7,"x":1.98,"y":12.4},{"c":7,"x":1.98,"y":3.5},{"c":7,"x":1.7,"y":-6},{"c":7,"x":1.5,"y":-11.6},{"c":7,"x":1.0,"y":-16.5},{"c":7,"x":0.5,"y":-19.1},{"c":7,"x":0,"y":-20.4},{"c":7,"x":-0.5,"y":-21.8},{"c":7,"x":-1.0,"y":-21.6},{"c":7,"x":-1.5,"y":-19.2},{"c":7,"x":-1.9,"y":-13.5},{"c":7,"x":-1.98,"y":-9.5},
{"c":8,"x":-1.98,"y":-3},{"c":8,"x":-1.73,"y":6},{"c":8,"x":-1.5,"y":10.3},{"c":8,"x":-1.0,"y":16.4},{"c":8,"x":0,"y":24.9},{"c":8,"x":0.5,"y":26.5},{"c":8,"x":1.0,"y":26.5},{"c":8,"x":1.5,"y":23.1},{"c":8,"x":1.85,"y":19.7},{"c":8,"x":1.98,"y":13.2},{"c":8,"x":1.98,"y":3.5},{"c":8,"x":1.7,"y":-6},{"c":8,"x":1.5,"y":-12.8},{"c":8,"x":1.0,"y":-19.4},{"c":8,"x":0.5,"y":-23.3},{"c":8,"x":0,"y":-25.1},{"c":8,"x":-0.5,"y":-26.5},{"c":8,"x":-1.0,"y":-25.9},{"c":8,"x":-1.5,"y":-22.6},{"c":8,"x":-1.9,"y":-15.7},{"c":8,"x":-1.98,"y":-10.5},
{"c":9,"x":-1.98,"y":-3},{"c":9,"x":-1.73,"y":6},{"c":9,"x":-1.5,"y":11.5},{"c":9,"x":-1.0,"y":19.1},{"c":9,"x":0,"y":29.5},{"c":9,"x":0.5,"y":31.3},{"c":9,"x":1.0,"y":30.8},{"c":9,"x":1.5,"y":26.5},{"c":9,"x":1.85,"y":21.5},{"c":9,"x":1.98,"y":14},{"c":9,"x":1.98,"y":3.5},{"c":9,"x":1.7,"y":-6},{"c":9,"x":1.5,"y":-14},{"c":9,"x":1.0,"y":-22.3},{"c":9,"x":0.5,"y":-27.5},{"c":9,"x":0,"y":-29.8},{"c":9,"x":-0.5,"y":-31.2},{"c":9,"x":-1.0,"y":-30.2},{"c":9,"x":-1.5,"y":-26},{"c":9,"x":-1.9,"y":-17.9},{"c":9,"x":-1.98,"y":-11.5}],
"E0":[{"c":1,"x":-0.49,"y":-4},{"c":1,"x":-0.38,"y":0.5},{"c":1,"x":-0.2,"y":5},{"c":1,"x":0.05,"y":8.5},{"c":1,"x":0.3,"y":10},{"c":1,"x":0.48,"y":9.5},{"c":1,"x":0.49,"y":4},{"c":1,"x":0.38,"y":0},{"c":1,"x":0.2,"y":-4.5},{"c":1,"x":-0.05,"y":-7},{"c":1,"x":-0.3,"y":-8},{"c":1,"x":-0.49,"y":-9.5},
{"c":2,"x":-0.49,"y":-4},{"c":2,"x":-0.38,"y":2},{"c":2,"x":-0.2,"y":6.5},{"c":2,"x":0.05,"y":10},{"c":2,"x":0.3,"y":11.5},{"c":2,"x":0.48,"y":11},{"c":2,"x":0.49,"y":4},{"c":2,"x":0.38,"y":-1.5},{"c":2,"x":0.2,"y":-6},{"c":2,"x":-0.05,"y":-8.5},{"c":2,"x":-0.3,"y":-9.5},{"c":2,"x":-0.49,"y":-11},
{"c":3,"x":-0.49,"y":-4},{"c":3,"x":-0.38,"y":3.5},{"c":3,"x":-0.2,"y":8},{"c":3,"x":0.05,"y":11.5},{"c":3,"x":0.3,"y":13},{"c":3,"x":0.48,"y":12.5},{"c":3,"x":0.49,"y":4},{"c":3,"x":0.38,"y":-3},{"c":3,"x":0.2,"y":-7.5},{"c":3,"x":-0.05,"y":-10},{"c":3,"x":-0.3,"y":-11},{"c":3,"x":-0.49,"y":-12.5}],
"E1":[{"c":1,"x":-0.99,"y":-7},{"c":1,"x":-0.85,"y":-1},{"c":1,"x":-0.6,"y":5.5},{"c":1,"x":-0.3,"y":11.5},{"c":1,"x":0.05,"y":15.5},{"c":1,"x":0.5,"y":17.5},{"c":1,"x":0.85,"y":18},{"c":1,"x":0.98,"y":12.5},{"c":1,"x":0.98,"y":6},{"c":1,"x":0.8,"y":-1.5},{"c":1,"x":0.5,"y":-8.5},{"c":1,"x":0.1,"y":-12},{"c":1,"x":-0.3,"y":-14.5},{"c":1,"x":-0.7,"y":-16.5},{"c":1,"x":-0.95,"y":-13.5},
{"c":2,"x":-0.99,"y":-7},{"c":2,"x":-0.85,"y":0.5},{"c":2,"x":-0.6,"y":7},{"c":2,"x":-0.3,"y":13},{"c":2,"x":0.05,"y":17},{"c":2,"x":0.5,"y":19},{"c":2,"x":0.85,"y":19.5},{"c":2,"x":0.98,"y":14},{"c":2,"x":0.98,"y":6},{"c":2,"x":0.8,"y":-3},{"c":2,"x":0.5,"y":-10},{"c":2,"x":0.1,"y":-13.5},{"c":2,"x":-0.3,"y":-16},{"c":2,"x":-0.7,"y":-18},{"c":2,"x":-0.95,"y":-15},
{"c":3,"x":-0.99,"y":-7},{"c":3,"x":-0.85,"y":2},{"c":3,"x":-0.6,"y":8.5},{"c":3,"x":-0.3,"y":14.5},{"c":3,"x":0.05,"y":18.5},{"c":3,"x":0.5,"y":20.5},{"c":3,"x":0.85,"y":21},{"c":3,"x":0.98,"y":15.5},{"c":3,"x":0.98,"y":6},{"c":3,"x":0.8,"y":-4.5},{"c":3,"x":0.5,"y":-11.5},{"c":3,"x":0.1,"y":-15},{"c":3,"x":-0.3,"y":-17.5},{"c":3,"x":-0.7,"y":-19.5},{"c":3,"x":-0.95,"y":-16.5}],
"E2":[{"c":1,"x":-1.98,"y":-3},{"c":1,"x":-1.63,"y":9.4},{"c":1,"x":-1.45,"y":12},{"c":1,"x":-1.0,"y":17},{"c":1,"x":0,"y":22.8},{"c":1,"x":0.5,"y":23.5},{"c":1,"x":1.0,"y":22.8},{"c":1,"x":1.5,"y":19.7},{"c":1,"x":1.85,"y":15.8},{"c":1,"x":1.98,"y":11},{"c":1,"x":1.99,"y":1},{"c":1,"x":1.64,"y":-8.4},{"c":1,"x":1.5,"y":-12.3},{"c":1,"x":1.0,"y":-17.4},{"c":1,"x":0.5,"y":-19.9},{"c":1,"x":0,"y":-21.2},{"c":1,"x":-0.5,"y":-21.8},{"c":1,"x":-1.0,"y":-21.2},{"c":1,"x":-1.5,"y":-18},{"c":1,"x":-1.9,"y":-11.6},{"c":1,"x":-1.98,"y":-10},
{"c":2,"x":-1.98,"y":-3},{"c":2,"x":-1.63,"y":9.4},{"c":2,"x":-1.45,"y":13.4},{"c":2,"x":-1.0,"y":19.8},{"c":2,"x":0,"y":27.3},{"c":2,"x":0.5,"y":28},{"c":2,"x":1.0,"y":27},{"c":2,"x":1.5,"y":23},{"c":2,"x":1.85,"y":17.8},{"c":2,"x":1.98,"y":11.8},{"c":2,"x":1.99,"y":1},{"c":2,"x":1.64,"y":-8.4},{"c":2,"x":1.5,"y":-13.3},{"c":2,"x":1.0,"y":-20.2},{"c":2,"x":0.5,"y":-24},{"c":2,"x":0,"y":-25.8},{"c":2,"x":-0.5,"y":-26.5},{"c":2,"x":-1.0,"y":-25.5},{"c":2,"x":-1.5,"y":-21.3},{"c":2,"x":-1.9,"y":-13.6},{"c":2,"x":-1.98,"y":-11.2},
{"c":3,"x":-1.98,"y":-3},{"c":3,"x":-1.63,"y":9.4},{"c":3,"x":-1.45,"y":14.8},{"c":3,"x":-1.0,"y":22.6},{"c":3,"x":0,"y":31.8},{"c":3,"x":0.5,"y":32.5},{"c":3,"x":1.0,"y":31.2},{"c":3,"x":1.5,"y":26.3},{"c":3,"x":1.85,"y":19.9},{"c":3,"x":1.98,"y":12.6},{"c":3,"x":1.99,"y":1},{"c":3,"x":1.64,"y":-8.4},{"c":3,"x":1.5,"y":-14.3},{"c":3,"x":1.0,"y":-23},{"c":3,"x":0.5,"y":-28.1},{"c":3,"x":0,"y":-30.4},{"c":3,"x":-0.5,"y":-31.2},{"c":3,"x":-1.0,"y":-29.9},{"c":3,"x":-1.5,"y":-24.6},{"c":3,"x":-1.9,"y":-15.7},{"c":3,"x":-1.98,"y":-12.4},
{"c":4,"x":-1.98,"y":-3},{"c":4,"x":-1.63,"y":9.4},{"c":4,"x":-1.45,"y":16.2},{"c":4,"x":-1.0,"y":25.4},{"c":4,"x":0,"y":36.2},{"c":4,"x":0.5,"y":37.1},{"c":4,"x":1.0,"y":35.5},{"c":4,"x":1.5,"y":29.6},{"c":4,"x":1.85,"y":21.9},{"c":4,"x":1.98,"y":13.4},{"c":4,"x":1.99,"y":1},{"c":4,"x":1.64,"y":-8.4},{"c":4,"x":1.5,"y":-15.4},{"c":4,"x":1.0,"y":-25.8},{"c":4,"x":0.5,"y":-32.1},{"c":4,"x":0,"y":-35},{"c":4,"x":-0.5,"y":-36},{"c":4,"x":-1.0,"y":-34.2},{"c":4,"x":-1.5,"y":-28},{"c":4,"x":-1.9,"y":-17.7},{"c":4,"x":-1.98,"y":-13.6},
{"c":5,"x":-1.98,"y":-3},{"c":5,"x":-1.63,"y":9.4},{"c":5,"x":-1.45,"y":17.6},{"c":5,"x":-1.0,"y":28.2},{"c":5,"x":0,"y":40.7},{"c":5,"x":0.5,"y":41.6},{"c":5,"x":1.0,"y":39.7},{"c":5,"x":1.5,"y":32.9},{"c":5,"x":1.85,"y":24},{"c":5,"x":1.98,"y":14.2},{"c":5,"x":1.99,"y":1},{"c":5,"x":1.64,"y":-8.4},{"c":5,"x":1.5,"y":-16.4},{"c":5,"x":1.0,"y":-28.6},{"c":5,"x":0.5,"y":-36.2},{"c":5,"x":0,"y":-39.6},{"c":5,"x":-0.5,"y":-40.7},{"c":5,"x":-1.0,"y":-38.6},{"c":5,"x":-1.5,"y":-31.3},{"c":5,"x":-1.9,"y":-19.8},{"c":5,"x":-1.98,"y":-14.8},
{"c":6,"x":-1.98,"y":-3},{"c":6,"x":-1.63,"y":9.4},{"c":6,"x":-1.45,"y":19},{"c":6,"x":-1.0,"y":31},{"c":6,"x":0,"y":45.2},{"c":6,"x":0.5,"y":46.1},{"c":6,"x":1.0,"y":43.9},{"c":6,"x":1.5,"y":36.2},{"c":6,"x":1.85,"y":26},{"c":6,"x":1.98,"y":15},{"c":6,"x":1.99,"y":1},{"c":6,"x":1.64,"y":-8.4},{"c":6,"x":1.5,"y":-17.4},{"c":6,"x":1.0,"y":-31.4},{"c":6,"x":0.5,"y":-40.3},{"c":6,"x":0,"y":-44.2},{"c":6,"x":-0.5,"y":-45.4},{"c":6,"x":-1.0,"y":-42.9},{"c":6,"x":-1.5,"y":-34.6},{"c":6,"x":-1.9,"y":-21.8},{"c":6,"x":-1.98,"y":-16},
{"c":7,"x":-1.98,"y":-3},{"c":7,"x":-1.63,"y":9.4},{"c":7,"x":-1.45,"y":12.7},{"c":7,"x":-1.0,"y":18.4},{"c":7,"x":0,"y":25},{"c":7,"x":0.5,"y":25.8},{"c":7,"x":1.0,"y":24.9},{"c":7,"x":1.5,"y":21.4},{"c":7,"x":1.85,"y":16.8},{"c":7,"x":1.98,"y":11.4},{"c":7,"x":1.99,"y":1},{"c":7,"x":1.64,"y":-8.4},{"c":7,"x":1.5,"y":-12.8},{"c":7,"x":1.0,"y":-18.8},{"c":7,"x":0.5,"y":-21.9},{"c":7,"x":0,"y":-23.5},{"c":7,"x":-0.5,"y":-24.2},{"c":7,"x":-1.0,"y":-23.4},{"c":7,"x":-1.5,"y":-19.7},{"c":7,"x":-1.9,"y":-12.6},{"c":7,"x":-1.98,"y":-10.6},
{"c":8,"x":-1.98,"y":-3},{"c":8,"x":-1.63,"y":9.4},{"c":8,"x":-1.45,"y":14.1},{"c":8,"x":-1.0,"y":21.2},{"c":8,"x":0,"y":29.5},{"c":8,"x":0.5,"y":30.3},{"c":8,"x":1.0,"y":29.1},{"c":8,"x":1.5,"y":24.7},{"c":8,"x":1.85,"y":18.9},{"c":8,"x":1.98,"y":12.2},{"c":8,"x":1.99,"y":1},{"c":8,"x":1.64,"y":-8.4},{"c":8,"x":1.5,"y":-13.8},{"c":8,"x":1.0,"y":-21.6},{"c":8,"x":0.5,"y":-26},{"c":8,"x":0,"y":-28.1},{"c":8,"x":-0.5,"y":-28.9},{"c":8,"x":-1.0,"y":-27.7},{"c":8,"x":-1.5,"y":-23},{"c":8,"x":-1.9,"y":-14.7},{"c":8,"x":-1.98,"y":-11.8},
{"c":9,"x":-1.98,"y":-3},{"c":9,"x":-1.63,"y":9.4},{"c":9,"x":-1.45,"y":15.5},{"c":9,"x":-1.0,"y":24},{"c":9,"x":0,"y":34},{"c":9,"x":0.5,"y":34.8},{"c":9,"x":1.0,"y":33.4},{"c":9,"x":1.5,"y":28},{"c":9,"x":1.85,"y":20.9},{"c":9,"x":1.98,"y":13},{"c":9,"x":1.99,"y":1},{"c":9,"x":1.64,"y":-8.4},{"c":9,"x":1.5,"y":-14.9},{"c":9,"x":1.0,"y":-24.4},{"c":9,"x":0.5,"y":-30.1},{"c":9,"x":0,"y":-32.7},{"c":9,"x":-0.5,"y":-33.6},{"c":9,"x":-1.0,"y":-32.1},{"c":9,"x":-1.5,"y":-26.3},{"c":9,"x":-1.9,"y":-16.7},{"c":9,"x":-1.98,"y":-13}]
},
"spacing":0,
"resolve":{"scale":{"color":"independent"},"legend":{"color":"independent"}},
"vconcat":[
{"spacing":0,"resolve":{"scale":{"color":"independent"},"legend":{"color":"independent"}},"hconcat":[
{"width":11,"height":1,"view":{"stroke":null},"data":{"values":[]},"mark":"point"},
{"spacing":225,"resolve":{"scale":{"color":"independent"},"legend":{"color":"independent"}},"hconcat":[
{"width":1160,"height":940,"title":{"text":"(a) VP1-VS3","dx":-81},
"encoding":{
"x":{"field":"x","type":"quantitative","scale":{"domain":[-2.5,2.5],"nice":false,"zero":false},"axis":{"title":"γ","format":"d","values":[-2,-1.5,-1,-0.5,0,0.5,1,1.5,2],"labelExpr":"datum.value % 1 == 0 ? datum.label : ''"}},
"y":{"field":"y","type":"quantitative","scale":{"domain":[-500,500],"nice":false,"zero":false},"axis":{"title":"τ (kN/m²)","format":"d","values":[-400,-300,-200,-100,0,100,200,300,400],"labelExpr":"datum.value % 200 == 0 ? datum.label : ''"}},
"detail":{"field":"c","type":"nominal"},
"order":{"value":null}},
"layer":[
{"data":{"name":"A0"},"mark":{"type":"line","strokeWidth":4},"encoding":{"color":{"datum":"0.5","type":"nominal","scale":{"domain":["0.5","1.0","2.0"],"range":["#505050","#F44444","#1A6ADE"]},"legend":{"orient":"none","legendX":65,"legendY":17,"title":null,"labelFontSize":72,"symbolSize":1640,"symbolOffset":45,"labelOffset":64,"rowPadding":18,"padding":13}}}},
{"data":{"name":"A1"},"mark":{"type":"line","strokeWidth":6},"encoding":{"color":{"datum":"1.0","type":"nominal"}}},
{"data":{"name":"A2"},"mark":{"type":"line","strokeWidth":7},"encoding":{"color":{"datum":"2.0","type":"nominal"}}}]},
{"spacing":-13,"resolve":{"scale":{"color":"independent"},"legend":{"color":"independent"}},"vconcat":[
{"width":1,"height":1,"view":{"stroke":null},"data":{"values":[]},"mark":"point"},
{"width":1124,"height":911,"title":{"text":"(b) VP2-VS3","dx":-125},
"encoding":{
"x":{"field":"x","type":"quantitative","scale":{"domain":[-2.5,2.5],"nice":false,"zero":false},"axis":{"title":"γ","titleFontStyle":"italic","format":"d","values":[-2,-1.5,-1,-0.5,0,0.5,1,1.5,2],"labelExpr":"datum.value % 1 == 0 ? datum.label : ''"}},
"y":{"field":"y","type":"quantitative","scale":{"domain":[-300,300],"nice":false,"zero":false},"axis":{"title":"τ (kN/m²)","format":"d","values":[-300,-250,-200,-150,-100,-50,0,50,100,150,200,250,300],"labelExpr":"datum.value % 100 == 0 ? datum.label : ''","gridColor":{"condition":{"test":"abs(datum.value) >= 300","value":"rgba(0,0,0,0)"},"value":"#888888"}}},
"detail":{"field":"c","type":"nominal"},
"order":{"value":null}},
"layer":[
{"data":{"name":"B0"},"mark":{"type":"line","strokeWidth":7},"encoding":{"color":{"datum":"0.5","type":"nominal","scale":{"domain":["0.5","1.0","2.0"],"range":["#505050","#F44444","#1A6ADE"]},"legend":{"orient":"none","legendX":70,"legendY":28,"title":null}}}},
{"data":{"name":"B1"},"mark":{"type":"line","strokeWidth":9},"encoding":{"color":{"datum":"1.0","type":"nominal"}}},
{"data":{"name":"B2"},"mark":{"type":"line","strokeWidth":3.5},"encoding":{"color":{"datum":"2.0","type":"nominal"}}}]}
]}
]}
]},
{"width":1,"height":23,"view":{"stroke":null},"data":{"values":[]},"mark":"point"},
{"spacing":0,"resolve":{"scale":{"color":"independent"},"legend":{"color":"independent"}},"hconcat":[
{"width":70,"height":1,"view":{"stroke":null},"data":{"values":[]},"mark":"point"},
{"spacing":216,"resolve":{"scale":{"color":"independent"},"legend":{"color":"independent"}},"hconcat":[
{"spacing":-22,"resolve":{"scale":{"color":"independent"},"legend":{"color":"independent"}},"vconcat":[
{"width":1,"height":1,"view":{"stroke":null},"data":{"values":[]},"mark":"point"},
{"width":1127,"height":910,"title":{"text":"(c) VP3-VS3","dx":-123},
"encoding":{
"x":{"field":"x","type":"quantitative","scale":{"domain":[-2.5,2.5],"nice":false,"zero":false},"axis":{"title":"γ","titleFontStyle":"italic","format":"d","values":[-2,-1.5,-1,-0.5,0,0.5,1,1.5,2],"labelExpr":"datum.value % 1 == 0 ? datum.label : ''"}},
"y":{"field":"y","type":"quantitative","scale":{"domain":[-100,100],"nice":false,"zero":false},"axis":{"title":"τ (kN/m²)","format":"d","values":[-100,-75,-50,-25,0,25,50,75,100],"labelExpr":"datum.value % 50 == 0 ? datum.label : ''","gridColor":{"condition":{"test":"abs(datum.value) >= 100","value":"rgba(0,0,0,0)"},"value":"#888888"}}},
"detail":{"field":"c","type":"nominal"},
"order":{"value":null}},
"layer":[
{"data":{"name":"C0"},"mark":{"type":"line","strokeWidth":6},"encoding":{"color":{"datum":"0.5","type":"nominal","scale":{"domain":["0.5","1.0","2.0"],"range":["#505050","#F44444","#1A6ADE"]},"legend":{"orient":"none","legendX":71,"legendY":27,"title":null}}}},
{"data":{"name":"C1"},"mark":{"type":"line","strokeWidth":8},"encoding":{"color":{"datum":"1.0","type":"nominal"}}},
{"data":{"name":"C2"},"mark":{"type":"line","strokeWidth":3.5},"encoding":{"color":{"datum":"2.0","type":"nominal"}}}]}
]},
{"width":1128,"height":913,"title":{"text":"(d) VP4-VS3","dx":-106},
"encoding":{
"x":{"field":"x","type":"quantitative","scale":{"domain":[-2.5,2.5],"nice":false,"zero":false},"axis":{"title":"γ","titleFontStyle":"italic","format":"d","values":[-2,-1.5,-1,-0.5,0,0.5,1,1.5,2],"labelExpr":"datum.value % 1 == 0 ? datum.label : ''"}},
"y":{"field":"y","type":"quantitative","scale":{"domain":[-80,80],"nice":false,"zero":false},"axis":{"title":"τ (kN/m²)","format":"d","values":[-75,-60,-45,-30,-15,0,15,30,45,60,75],"labelExpr":"datum.value % 30 == 0 ? datum.label : ''"}},
"detail":{"field":"c","type":"nominal"},
"order":{"value":null}},
"layer":[
{"data":{"name":"D0"},"mark":{"type":"line","strokeWidth":7},"encoding":{"color":{"datum":"0.5","type":"nominal","scale":{"domain":["0.5","1.0","2.0"],"range":["#505050","#F44444","#1A6ADE"]},"legend":{"orient":"none","legendX":70,"legendY":28,"title":null}}}},
{"data":{"name":"D1"},"mark":{"type":"line","strokeWidth":8},"encoding":{"color":{"datum":"1.0","type":"nominal"}}},
{"data":{"name":"D2"},"mark":{"type":"line","strokeWidth":3.5},"encoding":{"color":{"datum":"2.0","type":"nominal"}}}]}
]}
]},
{"width":1,"height":15,"view":{"stroke":null},"data":{"values":[]},"mark":"point"},
{"spacing":0,"resolve":{"scale":{"color":"independent"},"legend":{"color":"independent"}},"hconcat":[
{"width":862,"height":1,"view":{"stroke":null},"data":{"values":[]},"mark":"point"},
{"width":1127,"height":913,"title":{"text":"(e) VP5-VS3","dx":-107},
"encoding":{
"x":{"field":"x","type":"quantitative","scale":{"domain":[-2.5,2.5],"nice":false,"zero":false},"axis":{"title":"γ","titleFontStyle":"italic","format":"d","values":[-2,-1.5,-1,-0.5,0,0.5,1,1.5,2],"labelExpr":"datum.value % 1 == 0 ? datum.label : ''"}},
"y":{"field":"y","type":"quantitative","scale":{"domain":[-80,80],"nice":false,"zero":false},"axis":{"title":"τ (kN/m²)","format":"d","values":[-75,-60,-45,-30,-15,0,15,30,45,60,75],"labelExpr":"datum.value % 30 == 0 ? datum.label : ''"}},
"detail":{"field":"c","type":"nominal"},
"order":{"value":null}},
"layer":[
{"data":{"name":"E0"},"mark":{"type":"line","strokeWidth":7},"encoding":{"color":{"datum":"0.5","type":"nominal","scale":{"domain":["0.5","1.0","2.0"],"range":["#505050","#F44444","#1A6ADE"]},"legend":{"orient":"none","legendX":71,"legendY":28,"title":null}}}},
{"data":{"name":"E1"},"mark":{"type":"line","strokeWidth":7},"encoding":{"color":{"datum":"1.0","type":"nominal"}}},
{"data":{"name":"E2"},"mark":{"type":"line","strokeWidth":3.5},"encoding":{"color":{"datum":"2.0","type":"nominal"}}}]}
]}
]
}
